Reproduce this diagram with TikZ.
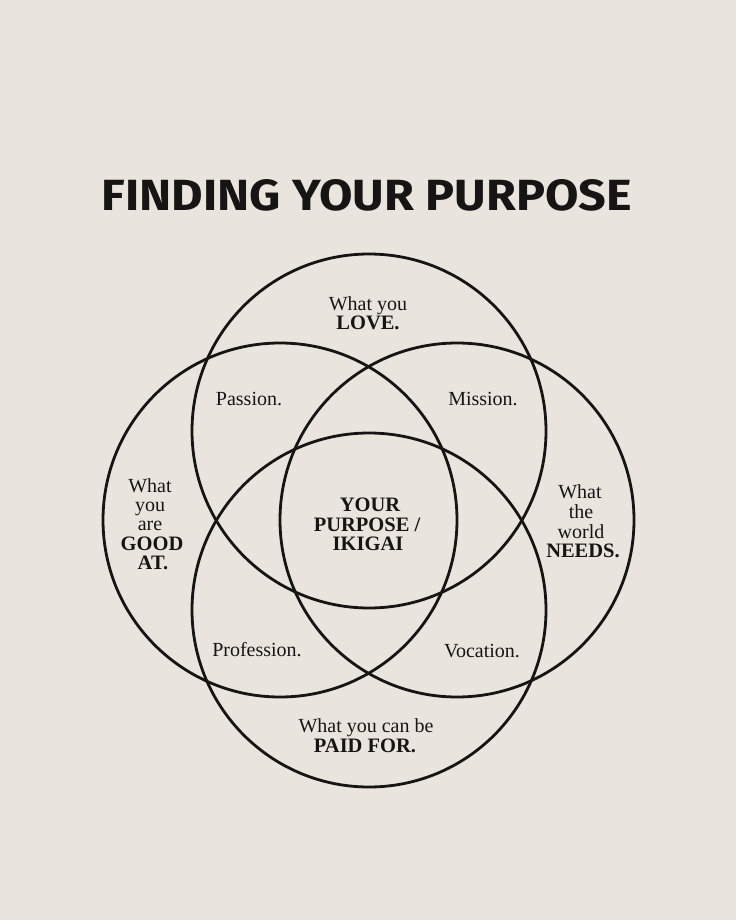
\documentclass[tikz,border=0pt]{standalone}
\usepackage{graphicx}
\usepackage{fontspec}
\setmainfont{Liberation Serif}
\newfontfamily\titlefont{Fira Sans}
\definecolor{paper}{HTML}{E9E5DE}
\definecolor{ink}{HTML}{161514}
\begin{document}
\begin{tikzpicture}[x=1pt,y=-1pt,
  ring/.style={circle,draw=ink,line width=2.8pt,minimum size=354pt,inner sep=0pt},
  lbl/.style={anchor=base,inner sep=0pt,text=ink,font=\fontsize{20}{20}\selectfont},
  blbl/.style={anchor=base,inner sep=0pt,text=ink,font=\fontsize{20.5}{20.5}\selectfont\bfseries}]
\fill[paper] (0,0) rectangle (736,920);
\useasboundingbox (0,0) rectangle (736,920);
\node[anchor=base,inner sep=0pt,text=ink] (title) at (367,211)
  {\resizebox{530pt}{31pt}{\titlefont\bfseries FINDING YOUR PURPOSE}};
% circles
\node[ring] (love) at (369,431) {};
\node[ring] (paid) at (369,610) {};
\node[ring] (good) at (280,520) {};
\node[ring] (needs) at (457,520) {};
% top
\node[lbl] (love1) at (368,310) {What you};
\node[blbl] (love2) at (368,329.5) {LOVE.};
% pairwise
\node[lbl] (passion) at (249,405) {Passion.};
\node[lbl] (mission) at (483,405) {Mission.};
\node[lbl] (profession) at (257,656) {Profession.};
\node[lbl] (vocation) at (482,657) {Vocation.};
% left
\node[lbl] (good1) at (150,492) {What};
\node[lbl] (good2) at (150,511) {you};
\node[lbl] (good3) at (150,530) {are};
\node[blbl] (good4) at (152,550) {GOOD};
\node[blbl] (good5) at (153,569.5) {AT.};
% right
\node[lbl] (needs1) at (580,498) {What};
\node[lbl] (needs2) at (581,518) {the};
\node[lbl] (needs3) at (581,538) {world};
\node[blbl] (needs4) at (583,557.5) {NEEDS.};
% center
\node[blbl] (ik1) at (370,511.5) {YOUR};
\node[blbl] (ik2) at (367,531) {PURPOSE /};
\node[blbl] (ik3) at (368,550.5) {IKIGAI};
% bottom
\node[lbl] (paid1) at (366,732.5) {What you can be};
\node[blbl] (paid2) at (365,752.5) {PAID FOR.};
\end{tikzpicture}
\end{document}
